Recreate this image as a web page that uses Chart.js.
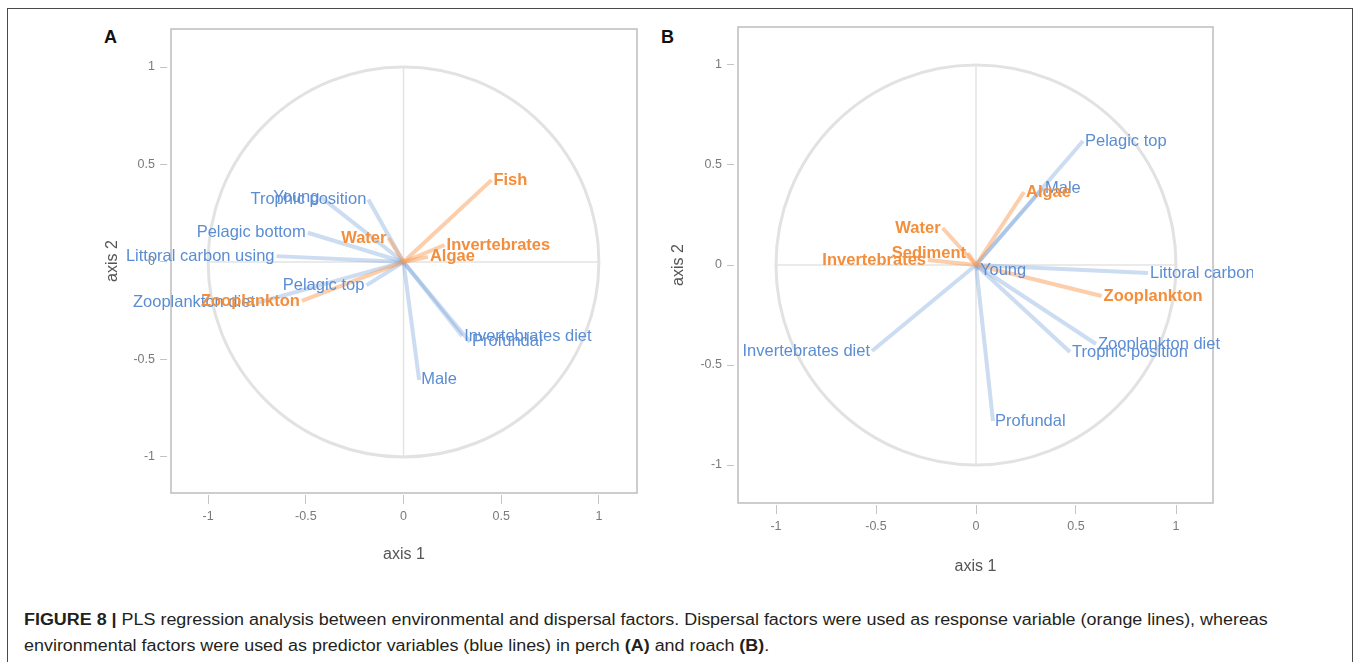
<!DOCTYPE html>
<html>
<head>
<meta charset="utf-8">
<script src="https://cdn.jsdelivr.net/npm/chart.js@4.4.1/dist/chart.umd.min.js"></script>
<style>
  body { margin: 0; background: #fff; width: 1360px; height: 662px; overflow: hidden; position: relative; font-family: 'Liberation Sans', Arial, sans-serif; }
  #frame { position: absolute; left: 7px; top: 8px; width: 1346px; height: 700px; border: 1.5px solid #4a4a4a; box-sizing: border-box; }
  .panel { position: absolute; top: 0; height: 600px; }
  #wrapA { left: 0; width: 680px; }
  #wrapB { left: 600px; width: 653px; }
  .tag { position: absolute; top: 27px; font: bold 18px 'Liberation Sans', Arial, sans-serif; color: #111; }
  .cap { position: absolute; left: 24px; font: 16px 'Liberation Sans Narrow', 'Liberation Sans', Arial, sans-serif; color: #231f20; white-space: nowrap; transform-origin: 0 0; line-height: 20px; }
</style>
</head>
<body>
<div id="frame"></div>
<div class="tag" style="left:104px">A</div>
<div class="tag" style="left:661px">B</div>
<div class="panel" id="wrapA"><canvas id="chartA"></canvas></div>
<div class="panel" id="wrapB"><canvas id="chartB"></canvas></div>
<div class="cap" id="cap1" style="top:610px"><b>FIGURE 8 |</b> PLS regression analysis between environmental and dispersal factors. Dispersal factors were used as response variable (orange lines), whereas</div>
<div class="cap" id="cap2" style="top:636px">environmental factors were used as predictor variables (blue lines) in perch <b>(A)</b> and roach <b>(B)</b>.</div>
<script>
const FONT = "'Liberation Sans', Arial, sans-serif";
const TICKS = [-1, -0.5, 0, 0.5, 1];

// perch (A)
const A_PRED = ['Young', 'Trophic position', 'Pelagic bottom', 'Littoral carbon using', 'Pelagic top', 'Zooplankton diet', 'Invertebrates diet', 'Profundal', 'Male'];
const A_PRED_X = [-0.42, -0.18, -0.49, -0.65, -0.19, -0.75, 0.30, 0.34, 0.08];
const A_PRED_Y = [0.33, 0.32, 0.15, 0.03, -0.12, -0.21, -0.38, -0.41, -0.605];
const A_RESP = ['Fish', 'Invertebrates', 'Algae', 'Water', 'Zooplankton'];
const A_RESP_X = [0.45, 0.21, 0.125, -0.077, -0.52];
const A_RESP_Y = [0.42, 0.087, 0.026, 0.123, -0.20];

// roach (B)
const B_PRED = ['Pelagic top', 'Male', 'Young', 'Littoral carbon', 'Zooplankton diet', 'Trophic position', 'Invertebrates diet', 'Profundal'];
const B_PRED_X = [0.535, 0.335, 0.01, 0.86, 0.60, 0.47, -0.52, 0.085];
const B_PRED_Y = [0.62, 0.385, -0.025, -0.04, -0.395, -0.435, -0.43, -0.78];
const B_RESP = ['Algae', 'Water', 'Sediment', 'Invertebrates', 'Zooplankton'];
const B_RESP_X = [0.24, -0.167, -0.04, -0.24, 0.628];
const B_RESP_Y = [0.365, 0.185, 0.06, 0.025, -0.155];

const BLUE_LINE = 'rgba(122,162,218,0.38)';
const BLUE_TEXT = '#5b8dd3';
const ORANGE_LINE = 'rgba(250,158,88,0.5)';
const ORANGE_TEXT = '#f28e3c';

function vectors(names, xs, ys, line, text, bold, order) {
  return names.map((name, i) => ({
    label: name,
    data: [{ x: 0, y: 0 }, { x: xs[i], y: ys[i] }],
    showLine: true,
    borderColor: line,
    borderWidth: 4,
    pointRadius: 0,
    order,
    textColor: text,
    bold,
  }));
}

// unit circle, zero lines and the plot box
const backdrop = {
  id: 'backdrop',
  beforeDatasetsDraw(chart) {
    const { ctx, chartArea: a, scales: { x, y } } = chart;
    const cx = x.getPixelForValue(0), cy = y.getPixelForValue(0);
    ctx.save();
    ctx.strokeStyle = '#e4e4e4';
    ctx.lineWidth = 1.5;
    ctx.beginPath();
    ctx.moveTo(x.getPixelForValue(-1), cy); ctx.lineTo(x.getPixelForValue(1), cy);
    ctx.moveTo(cx, y.getPixelForValue(-1)); ctx.lineTo(cx, y.getPixelForValue(1));
    ctx.stroke();
    ctx.strokeStyle = '#e2e2e2';
    ctx.lineWidth = 3;
    ctx.beginPath();
    ctx.ellipse(cx, cy, x.getPixelForValue(1) - cx, cy - y.getPixelForValue(1), 0, 0, 2 * Math.PI);
    ctx.stroke();
    ctx.strokeStyle = '#bdbdbd';
    ctx.lineWidth = 1.5;
    ctx.strokeRect(a.left, a.top, a.width, a.height);
    ctx.restore();
  },
};

// variable names at the arrow tips, blue first so orange sits on top
const tipLabels = {
  id: 'tipLabels',
  afterDatasetsDraw(chart) {
    const { ctx, scales: { x, y } } = chart;
    ctx.save();
    ctx.textBaseline = 'middle';
    [...chart.data.datasets].sort((a, b) => b.order - a.order).forEach(ds => {
      const end = ds.data[1];
      const left = end.x < 0;
      ctx.font = (ds.bold ? 'bold ' : '') + '16.5px ' + FONT;
      ctx.fillStyle = ds.textColor;
      ctx.textAlign = left ? 'right' : 'left';
      ctx.fillText(ds.label, x.getPixelForValue(end.x) + (left ? -2 : 2), y.getPixelForValue(end.y));
    });
    ctx.restore();
  },
};

function axes(xr, yr, yWidth, xHeight) {
  const common = {
    type: 'linear',
    afterBuildTicks: s => { s.ticks = TICKS.map(value => ({ value })); },
    border: { display: false },
    ticks: { padding: 5, color: '#7a7a7a', font: { size: 12.5 }, callback: v => String(v) },
  };
  return {
    x: {
      ...common, min: xr[0], max: xr[1],
      afterFit: s => { s.height = xHeight; },
      grid: { drawOnChartArea: false, tickLength: 11, tickColor: '#c4c4c4', tickBorderDash: [0, 2, 9, 100] },
      title: { display: true, text: 'axis 1', color: '#555', font: { size: 16 }, padding: 0 },
    },
    y: {
      ...common, min: yr[0], max: yr[1],
      afterFit: s => { s.width = yWidth; },
      grid: { drawOnChartArea: false, tickLength: 11, tickColor: '#c4c4c4', tickBorderDash: [7, 100] },
      title: { display: true, text: 'axis 2', color: '#555', font: { size: 16 }, padding: 0 },
    },
  };
}

function makeChart(id, datasets, padding, xr, yr, yWidth, xHeight) {
  new Chart(document.getElementById(id), {
    type: 'scatter',
    data: { datasets },
    options: {
      responsive: true,
      maintainAspectRatio: false,
      animation: false,
      layout: { padding },
      plugins: { legend: { display: false }, tooltip: { enabled: false } },
      scales: axes(xr, yr, yWidth, xHeight),
    },
    plugins: [backdrop, tipLabels],
  });
}

Chart.defaults.font.family = FONT;

makeChart('chartA', [
  ...vectors(A_RESP, A_RESP_X, A_RESP_Y, ORANGE_LINE, ORANGE_TEXT, true, 0),
  ...vectors(A_PRED, A_PRED_X, A_PRED_Y, BLUE_LINE, BLUE_TEXT, false, 1),
], { left: 103, top: 29, right: 43, bottom: 36 }, [-1.19, 1.195], [-1.185, 1.195], 68, 71);

makeChart('chartB', [
  ...vectors(B_RESP, B_RESP_X, B_RESP_Y, ORANGE_LINE, ORANGE_TEXT, true, 0),
  ...vectors(B_PRED, B_PRED_X, B_PRED_Y, BLUE_LINE, BLUE_TEXT, false, 1),
], { left: 69, top: 27, right: 40, bottom: 24 }, [-1.19, 1.185], [-1.19, 1.19], 69, 73);

// squeeze the caption lines to the printed widths
[['cap1', 1244], ['cap2', 745]].forEach(([id, w]) => {
  const el = document.getElementById(id);
  el.style.transform = 'scaleX(' + (w / el.offsetWidth) + ')';
});
</script>
</body>
</html>
